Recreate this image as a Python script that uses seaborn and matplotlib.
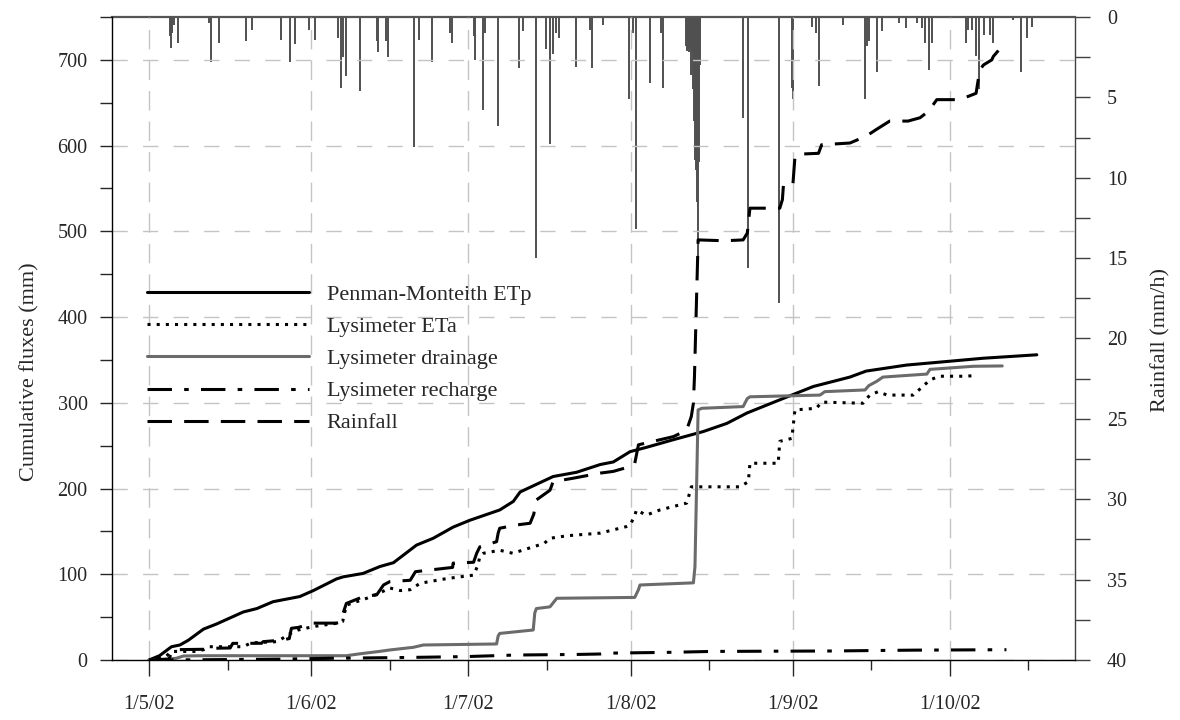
import numpy as np
import pandas as pd
import matplotlib
matplotlib.use("Agg")
import matplotlib.pyplot as plt
import matplotlib.dates as mdates
from matplotlib.ticker import MultipleLocator, FixedLocator
import seaborn as sns

START = pd.Timestamp("2002-05-01")

# ---- Data (day offsets from 1 May 2002) ----
etp_day = [0, 2, 4.3, 5.9, 7.5, 10.4, 12.9, 18, 20.6, 23.7, 28.8, 31.4, 35.8, 37.1, 40.9,
           44.1, 46.7, 51.1, 54.3, 58.1, 61.3, 63.2, 67, 69.6, 70.9, 77.2, 81.7, 86.2, 88.7,
           91.9, 95.0, 100.2, 105.9, 110.4, 114.2, 119.9, 126.9, 133.9, 137, 144.7, 153,
           159.4, 169.6]
etp_mm = [0, 5, 15.5, 17.5, 23, 36, 42, 56, 60, 68, 74, 81, 94.5, 97, 101,
          109, 113.5, 134, 142, 155, 163, 167, 175, 185, 196, 214, 219, 228, 231,
          243, 248, 257, 266.5, 276, 288, 302, 319, 330, 337, 344, 348.5,
          352, 356]

eta_day = [0, 3, 4.3, 6.6, 9, 10.4, 11.5, 18, 19.5, 24.5, 27, 28.5, 31.4, 36, 37, 37.7,
           41.6, 44, 46, 48, 49.9, 51.8, 56.9, 62, 62.8, 63.2, 63.9, 67, 69.5, 73.4, 75.5,
           76.6, 80, 86.2, 91.2, 91.9, 92.8, 93.1, 95, 97.6, 102.7, 103.3, 103.6, 112.9,
           114.5, 114.8, 120.2, 120.5, 122.8, 123.4, 127.5, 128.5, 136.4, 137.7, 139.3,
           141, 146, 149.2, 151, 156.2, 158]
eta_mm = [0, 3, 10, 10, 10, 12, 15.5, 15.5, 20, 21.4, 31, 35, 39, 43, 45, 64,
          72, 78, 84, 81, 82, 89.5, 95, 99, 110, 120.5, 124.5, 128, 124.5, 132, 136,
          142, 145, 148, 155.6, 157.5, 168, 175, 169, 175, 183, 195, 202, 202,
          208, 229.5, 229.5, 255, 258.5, 291.7, 293.6, 300.8, 299.5, 309, 313,
          309, 309, 326.7, 331, 331, 332]

drain_day = [0, 3.5, 5.2, 6.6, 10, 37.7, 40, 44, 46, 50.5, 52.4, 66.4, 66.7, 67, 73.4,
             73.7, 74, 76.6, 77.9, 92.8, 93.5, 93.8, 104, 104.3, 104.6, 104.9, 105.6,
             113.5, 114.3, 114.8, 128.2, 129.1, 136.8, 137.5, 139, 140.2, 148.6, 149.2,
             157.5, 163]
drain_mm = [0, 1, 2, 4.7, 5, 5, 7, 10, 11.7, 14.8, 17.5, 18.7, 28, 31, 35,
            55, 60, 62, 72, 73, 82, 87.5, 90, 109, 200, 291.7, 293.6,
            295.6, 305, 307, 309, 313, 315, 320, 325, 330, 333.5, 339,
            342.6, 343]

rech_day = [0, 10, 25, 35, 50, 60.7, 70, 82, 86.2, 88, 100, 107.5, 130, 146, 163.8]
rech_mm = [0, 0.3, 1, 2, 3, 4, 5.8, 6.5, 7, 8, 9, 10, 10.5, 11.5, 12]

rcum_day = [0, 3.8, 4.4, 4.8, 10.5, 11, 15.5, 16, 21.5, 21.8, 25, 26.8, 27.2, 28.5, 31.4,
            35.8, 36.5, 37.7, 41, 43.5, 44.8, 46, 49.9, 50.9, 53.7, 58, 58.1, 62, 62.6,
            63.2, 66.4, 66.7, 67, 70.2, 72.8, 73.5, 74, 76.6, 77.2, 81, 86.2, 88.7, 91.9,
            92.8, 93.5, 100.2, 102.7, 103.6, 104, 104.2, 104.9, 110, 113.5, 114.3, 114.8,
            120.5, 121, 121.2, 123, 123.4, 124, 127.9, 128.5, 133.9, 137, 139, 141.5, 145,
            147.3, 148.9, 150.5, 154, 156.2, 158, 158.7, 159.4, 161, 161.3, 162.9]
rcum_mm = [0, 1, 10, 12, 12.5, 13.6, 14, 19.4, 19.5, 21.4, 23, 25, 37, 38, 43,
           43, 44, 66, 74, 76, 87.5, 91.4, 93, 103, 105, 108, 113, 114, 124.5,
           132, 138, 148, 153.7, 157.5, 159.5, 170, 186.7, 198, 208, 212, 218, 220, 225.6,
           229.5, 251, 260.6, 268, 284, 299.5, 330, 490, 489, 490, 498, 527,
           527, 537, 554, 554, 587, 590, 591, 601, 603, 611, 619, 628.6, 628.6,
           632.5, 640, 653.6, 653.6, 656.7, 661, 688, 694, 700, 704, 715.5]

rain_day = [4.0, 4.2, 4.4, 4.8, 5.5, 11.5, 11.8, 13.4, 18.5, 19.7, 25.2, 26.9, 27.9, 30.6,
            31.7, 36.2, 36.7, 37.1, 37.6, 40.4, 43.5, 43.8, 45.3, 45.6, 50.7, 51.6, 54.0,
            57.5, 57.9, 62.0, 62.3, 63.9, 64.2, 66.7, 70.7, 71.4, 73.9, 75.8, 76.6, 77.2,
            77.7, 78.4, 81.6, 84.2, 84.6, 86.8, 91.7, 92.5, 93.0, 95.7, 97.8, 98.2,
            102.6, 102.8, 103.0, 103.2, 103.4, 103.6, 103.8, 104.0, 104.2, 104.4, 104.5,
            104.7, 104.9, 105.0, 105.1, 105.2, 105.3, 113.4, 114.5, 120.3, 122.8, 123.1,
            126.6, 127.5, 128.0, 132.6, 136.8, 137.2, 137.6, 139.1, 140.0, 143.3, 144.7,
            146.7, 147.6, 148.2, 149.0, 149.5, 156.1, 156.5, 157.2, 158.0, 158.6, 159.5,
            160.6, 161.3, 165.0, 166.5, 167.8, 168.6]
rain_mmh = [1.2, 1.9, 1.0, 0.5, 1.6, 0.4, 2.8, 1.6, 1.5, 0.8, 1.4, 2.8, 1.7, 0.8,
            1.4, 1.3, 4.4, 2.5, 3.7, 4.6, 1.5, 2.2, 1.5, 2.5, 8.1, 1.4, 2.8,
            1.0, 1.6, 1.2, 2.7, 5.8, 1.0, 6.8, 3.2, 0.9, 15.0, 2.0, 7.9, 2.3,
            1.0, 1.3, 3.1, 0.8, 3.2, 0.5, 5.1, 1.0, 13.2, 4.1, 1.0, 4.4,
            1.8, 2.1, 2.0, 2.2, 1.9, 3.6, 2.2, 4.5, 6.5, 8.9, 9.5,
            11.5, 15.3, 9.0, 5.5, 3.0, 1.5, 6.3, 15.6, 17.8, 4.4, 5.1,
            0.6, 1.0, 4.3, 0.5, 5.1, 1.8, 1.5, 3.4, 0.9, 0.4, 0.7,
            0.4, 0.7, 1.6, 3.3, 1.6, 1.6, 0.8, 0.8, 2.4, 4.5, 1.1,
            1.1, 1.6, 0.2, 3.4, 1.3, 0.6]

month_ticks = ["2002-05-01", "2002-06-01", "2002-07-01", "2002-08-01", "2002-09-01", "2002-10-01"]
month_labels = ["1/5/02", "1/6/02", "1/7/02", "1/8/02", "1/9/02", "1/10/02"]
mid_ticks = ["2002-05-16", "2002-06-16", "2002-07-16", "2002-08-16", "2002-09-16", "2002-10-16"]


def to_dates(days):
    return START + pd.to_timedelta(np.asarray(days, dtype=float), unit="D")


sns.set_style("ticks")
plt.rcParams["font.family"] = ["Liberation Serif", "DejaVu Serif"]
plt.rcParams["font.size"] = 14.5

W, H = 1180, 720
fig = plt.figure(figsize=(W / 100, H / 100), dpi=100)
ax = fig.add_axes([112 / W, (H - 660) / H, 963 / W, 643 / H])

LW = 2.2
sns.lineplot(x=to_dates(etp_day), y=etp_mm, ax=ax, color="black", lw=LW,
             label="Penman-Monteith ETp", sort=False, estimator=None)
sns.lineplot(x=to_dates(eta_day), y=eta_mm, ax=ax, color="black", lw=LW,
             linestyle=(0, (1, 2)), label="Lysimeter ETa", sort=False, estimator=None)
sns.lineplot(x=to_dates(drain_day), y=drain_mm, ax=ax, color="#6b6b6b", lw=LW,
             label="Lysimeter drainage", sort=False, estimator=None)
sns.lineplot(x=to_dates(rech_day), y=rech_mm, ax=ax, color="black", lw=LW,
             linestyle=(0, (8, 4, 1.5, 4)), label="Lysimeter recharge", sort=False, estimator=None)
sns.lineplot(x=to_dates(rcum_day), y=rcum_mm, ax=ax, color="black", lw=LW,
             linestyle=(0, (8, 4)), label="Rainfall", sort=False, estimator=None)

ax2 = ax.twinx()
ax.set_zorder(ax2.get_zorder() + 1)
ax.patch.set_visible(False)
ax2.vlines(to_dates(rain_day), 0, rain_mmh, color="#505050", lw=1.4)

# limits and ticks
ax.set_xlim(START - pd.Timedelta(days=7.07), START + pd.Timedelta(days=176.9))
ax.xaxis.set_major_locator(FixedLocator(mdates.date2num(pd.to_datetime(month_ticks))))
ax.xaxis.set_major_formatter(matplotlib.ticker.FixedFormatter(month_labels))
ax.xaxis.set_minor_locator(FixedLocator(mdates.date2num(pd.to_datetime(mid_ticks))))
ax.set_ylim(0, 750)
ax.yaxis.set_major_locator(MultipleLocator(100))
ax.yaxis.set_minor_locator(MultipleLocator(50))
ax2.set_ylim(40, 0)
ax2.yaxis.set_major_locator(MultipleLocator(5))
ax2.yaxis.set_minor_locator(MultipleLocator(2.5))

ax.tick_params(axis="x", which="major", direction="out", length=11.5, width=1, pad=14)
ax.tick_params(axis="x", which="minor", direction="out", length=7.2, width=1)
ax.tick_params(axis="y", which="both", direction="out", length=9, width=1, pad=8.5)
ax2.tick_params(axis="y", which="both", direction="out", length=11, width=1, pad=12,
                color="#404040")

ax.xaxis.grid(True, which="major", color="#c4c4c4", lw=1.0, linestyle=(0, (14, 8)))
ax.yaxis.grid(True, which="major", color="#c4c4c4", lw=1.0, linestyle=(0, (11, 11)))

ax.set_xlabel("")
ax.set_ylabel("Cumulative fluxes (mm)", fontsize=16)
ax.yaxis.set_label_coords(-0.0758, 0.448)
ax2.set_ylabel("Rainfall (mm/h)", fontsize=16)
ax2.yaxis.set_label_coords(1.079, 0.498)

for s in ("top", "right"):
    ax.spines[s].set_visible(False)
for s in ("left", "bottom"):
    ax2.spines[s].set_visible(False)
ax.spines["left"].set_linewidth(1.0)
ax.spines["bottom"].set_linewidth(1.0)
ax.spines["left"].set_color("black")
ax.spines["bottom"].set_color("black")
ax2.spines["top"].set_color("#555555")
ax2.spines["top"].set_linewidth(1.6)
ax2.spines["right"].set_color("#404040")
ax2.spines["right"].set_linewidth(1.0)

ax.legend(loc="upper left", bbox_to_anchor=(0.036, 0.584), frameon=False,
          handlelength=7.3, handletextpad=0.8, labelspacing=0.52, borderpad=0,
          borderaxespad=0, fontsize=16)

fig.savefig("out.png", dpi=100)
